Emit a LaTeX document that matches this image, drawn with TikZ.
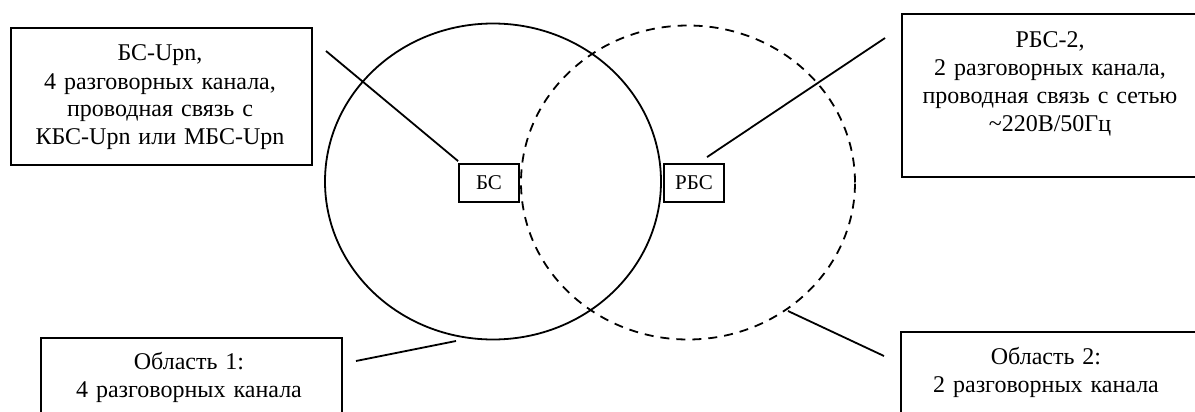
\documentclass[tikz,border=0pt]{standalone}
\usepackage{fontspec}
\setmainfont{Liberation Serif}
\begin{document}
\begin{tikzpicture}[x=0.5pt,y=-0.5pt,
  box/.style={draw, line width=0.9pt, inner sep=0pt, anchor=north west},
  smallbox/.style={draw, line width=0.9pt, inner sep=0pt, minimum width=30pt, minimum height=19pt, font=\fontsize{10.5pt}{12pt}\selectfont},
  txt/.style={anchor=base, align=center, text width=160pt, inner sep=0pt, font=\fontsize{12pt}{14pt}\selectfont},
  conn/.style={line width=0.9pt},
  area/.style={line width=0.9pt},
  dasharea/.style={line width=0.9pt, dash pattern=on 4.5pt off 3.5pt}
]
\useasboundingbox (0,0) rectangle (1195,412);
\clip (0,0) rectangle (1195,412);

% areas
\draw[area] (493,181.5) ellipse [x radius=84pt, y radius=79pt];
\draw[dasharea] (688,182.5) ellipse [x radius=83.5pt, y radius=78.5pt];

% annotation boxes
\node[box, minimum width=150.5pt, minimum height=68.5pt] (b1) at (10,27) {};
\node[box, minimum width=152pt, minimum height=81.5pt] (b2) at (901,13) {};
\node[box, minimum width=150.5pt, minimum height=45pt] (b3) at (40,337) {};
\node[box, minimum width=153pt, minimum height=48pt] (b4) at (900,331) {};

\node[txt] (t1) at (160,61) {БС-Upn,\\4 разговорных канала,\\проводная связь с\\КБС-Upn или МБС-Upn};
\node[txt] (t2) at (1050,47) {РБС-2,\\2 разговорных канала,\\проводная связь с сетью\\\textasciitilde220В/50Гц};
\node[txt] (t3) at (189,369) {Область 1:\\4 разговорных канала};
\node[txt] (t4) at (1046,364) {Область 2:\\2 разговорных канала};

% stations
\node[smallbox] (bs) at (489,183) {БС};
\node[smallbox] (rbs) at (694,183) {РБС};

% connectors
\coordinate (c1) at (326,51);
\coordinate (c2) at (885,38);
\coordinate (c3a) at (356,361);
\coordinate (c3b) at (456,341);
\coordinate (c4a) at (788,311);
\coordinate (c4b) at (884,356);
\draw[conn] (c1) -- ([yshift=1pt]bs.north west);
\draw[conn] (c2) -- ([xshift=6.5pt,yshift=3pt]rbs.north);
\draw[conn] (c3a) -- (c3b);
\draw[conn] (c4a) -- (c4b);
\end{tikzpicture}
\end{document}
